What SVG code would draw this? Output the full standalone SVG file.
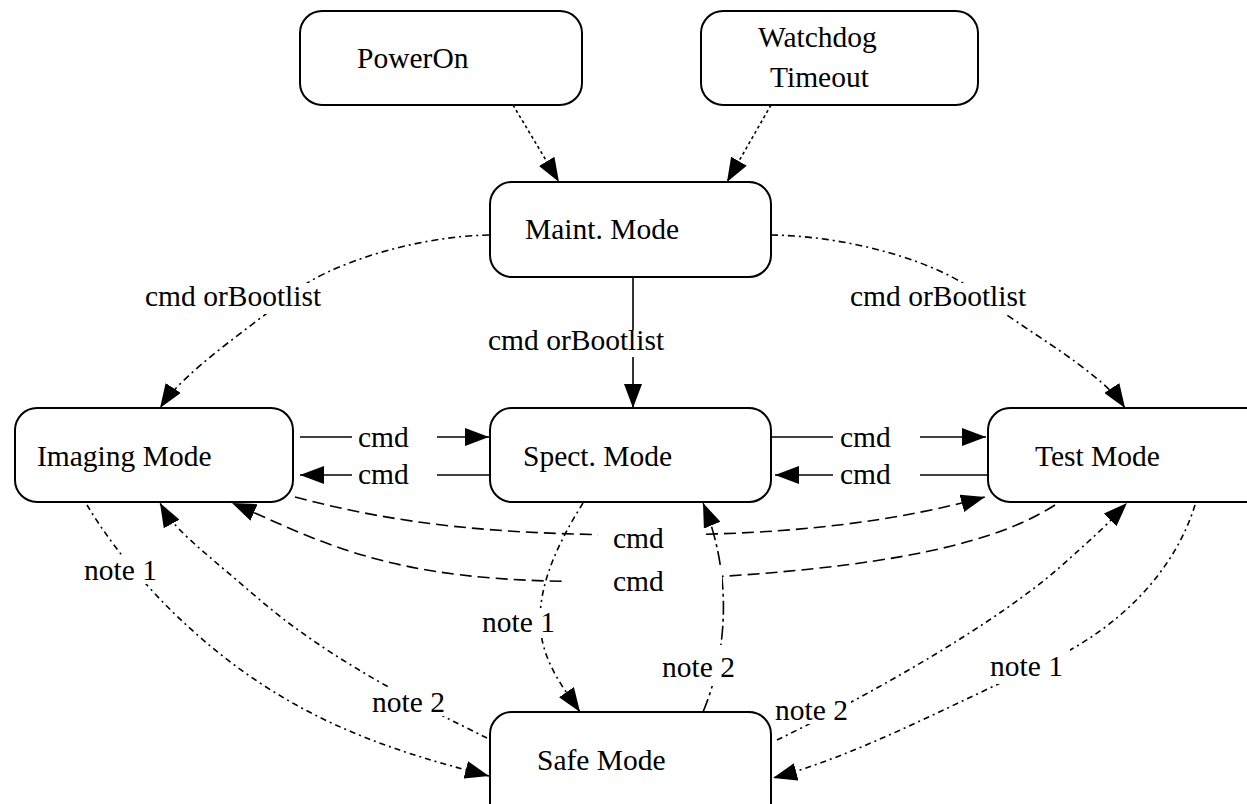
<svg xmlns="http://www.w3.org/2000/svg" width="1247" height="804" viewBox="0 0 1247 804">
  <style>
    .box { fill: #fff; stroke: #000; stroke-width: 2; }
    text { font-family: "Liberation Serif", "Times New Roman", serif; font-size: 29.5px; fill: #000; }
    .ln { fill: none; stroke: #000; stroke-width: 1.6; }
    .arr { marker-end: url(#ah); }
    .dot { stroke-dasharray: 3 3; }
    .dd { stroke-dasharray: 7 4 2 4; }
    .long { stroke-dasharray: 12 6; }
    .note { stroke-dasharray: 6 4 2 4; }
    .dash2 { stroke-dasharray: 14 4 3 4; }
    .bg { fill: #fff; }
  </style>
  <defs>
    <marker id="ah" markerUnits="userSpaceOnUse" markerWidth="24" markerHeight="18" refX="24" refY="9" orient="auto">
      <path d="M0,0 L24,9 L0,18 z" fill="#000"/>
    </marker>
  </defs>

  <rect width="1247" height="804" fill="#fff"/>

  <!-- transitions -->
  <g id="connectors">
    <!-- entry events -->
    <path class="ln dot arr" d="M513 105 L559 182"/>
    <path class="ln dot arr" d="M771 105 L727 182"/>

    <!-- Maint. Mode to the three operating modes -->
    <path class="ln dd arr" d="M489 235 C 420 236, 330 262, 290 295 S 185 370, 160 408"/>
    <path class="ln dd arr" d="M771 235 C 850 236, 940 262, 980 295 S 1100 370, 1125 408"/>
    <path class="ln" d="M633 277 V330"/>
    <path class="ln arr" d="M633 357 V408"/>

    <!-- Imaging <-> Spect. -->
    <path class="ln" d="M300 437 H352"/>
    <path class="ln arr" d="M437 437 H489"/>
    <path class="ln" d="M489 475 H437"/>
    <path class="ln arr" d="M352 475 H300"/>

    <!-- Spect. <-> Test -->
    <path class="ln" d="M771 437 H833"/>
    <path class="ln arr" d="M920 437 H986"/>
    <path class="ln" d="M988 475 H920"/>
    <path class="ln arr" d="M833 475 H775"/>

    <!-- Imaging <-> Test -->
    <path class="ln long arr" d="M295 497 C 400 525, 500 535, 650 535 S 900 520, 985 497"/>
    <path class="ln long arr" d="M1055 505 C 1000 540, 900 570, 650 580 S 330 545, 232 503"/>

    <!-- to / from Safe Mode -->
    <path class="ln note arr" d="M583 503 C 560 540, 540 580, 540 620 S 565 690, 580 712"/>
    <path class="ln dash2 arr" d="M703 712 C 725 660, 735 580, 703 503"/>
    <path class="ln note arr" d="M87 505 C 120 560, 180 630, 260 683 S 420 758, 489 776"/>
    <path class="ln note arr" d="M487 738 C 420 705, 330 660, 260 600 S 175 530, 160 503"/>
    <path class="ln note arr" d="M1195 505 C 1175 570, 1120 630, 1040 665 S 860 755, 773 778"/>
    <path class="ln note arr" d="M777 740 C 880 690, 1000 620, 1060 567 S 1115 515, 1127 503"/>

    <!-- label backgrounds break the lines under the text -->
    <rect class="bg" x="142" y="283" width="184" height="31"/>
    <rect class="bg" x="847" y="283" width="183" height="31"/>
    <rect class="bg" x="485" y="330" width="186" height="27"/>
    <rect class="bg" x="598" y="524" width="105" height="28"/>
    <rect class="bg" x="565" y="568" width="157" height="28"/>
    <rect class="bg" x="80" y="556" width="77" height="28"/>
    <rect class="bg" x="368" y="688" width="81" height="28"/>
    <rect class="bg" x="478" y="608" width="76" height="30"/>
    <rect class="bg" x="658" y="645" width="82" height="41"/>
    <rect class="bg" x="773" y="696" width="78" height="28"/>
    <rect class="bg" x="986" y="648" width="84" height="36"/>

    <!-- labels -->
    <text x="145" y="306">cmd orBootlist</text>
    <text x="850" y="306">cmd orBootlist</text>
    <text x="488" y="350">cmd orBootlist</text>
    <text x="358" y="447">cmd</text>
    <text x="358" y="484">cmd</text>
    <text x="840" y="447">cmd</text>
    <text x="840" y="484">cmd</text>
    <text x="613" y="548">cmd</text>
    <text x="613" y="591">cmd</text>
    <text x="84" y="580">note 1</text>
    <text x="372" y="712">note 2</text>
    <text x="482" y="632">note 1</text>
    <text x="662" y="677">note 2</text>
    <text x="775" y="720">note 2</text>
    <text x="990" y="676">note 1</text>
  </g>

  <!-- states -->
  <g id="power-on">
    <rect class="box" x="300" y="11" width="282" height="94" rx="22"/>
    <text x="357" y="68">PowerOn</text>
  </g>
  <g id="watchdog-timeout">
    <rect class="box" x="701" y="11" width="277" height="94" rx="22"/>
    <text x="758" y="47">Watchdog</text>
    <text x="770" y="87">Timeout</text>
  </g>
  <g id="maint-mode">
    <rect class="box" x="490" y="182" width="281" height="95" rx="22"/>
    <text x="525" y="239">Maint. Mode</text>
  </g>
  <g id="imaging-mode">
    <rect class="box" x="15" y="408" width="278" height="94" rx="22"/>
    <text x="37" y="466">Imaging Mode</text>
  </g>
  <g id="spect-mode">
    <rect class="box" x="490" y="408" width="281" height="94" rx="22"/>
    <text x="523" y="466">Spect. Mode</text>
  </g>
  <g id="test-mode">
    <rect class="box" x="988" y="408" width="300" height="94" rx="22"/>
    <text x="1035" y="466">Test Mode</text>
  </g>
  <g id="safe-mode">
    <rect class="box" x="490" y="712" width="281" height="120" rx="22"/>
    <text x="537" y="770">Safe Mode</text>
  </g>
</svg>
